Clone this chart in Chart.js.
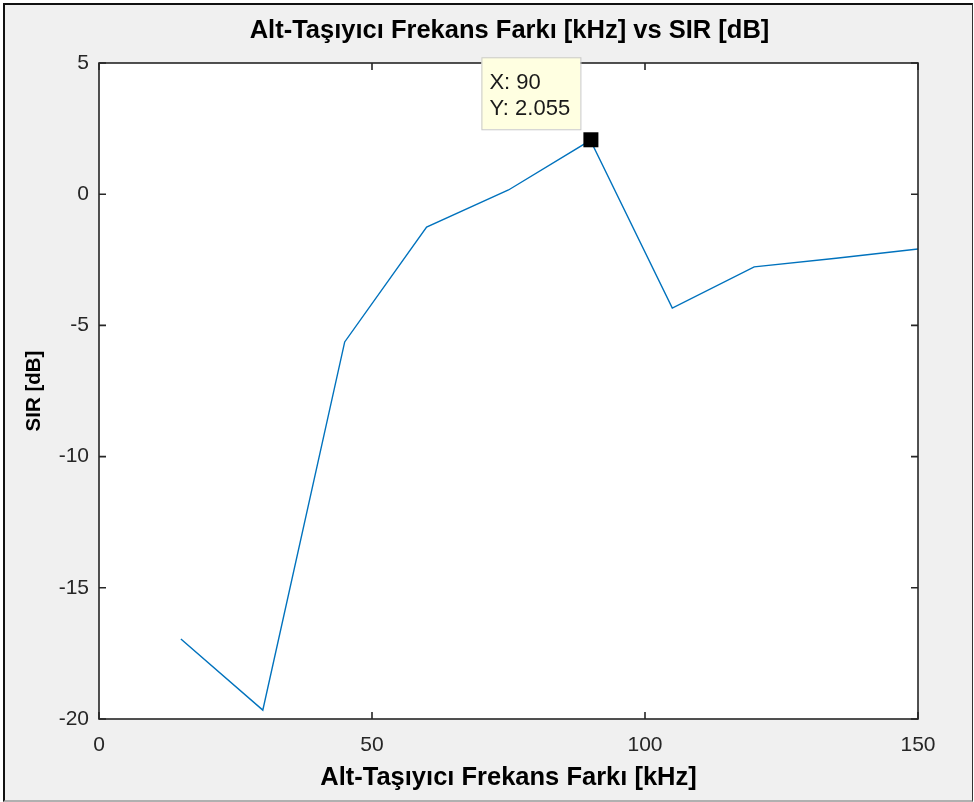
<!DOCTYPE html>
<html lang="tr">
<head>
    <meta charset="UTF-8">
    <title>Alt-Taşıyıcı Frekans Farkı vs SIR</title>
    <script src="https://cdn.jsdelivr.net/npm/chart.js"></script>
    <style>
        html, body { margin: 0; padding: 0; background: #ffffff; }
        /* figure window frame */
        #frame {
            position: absolute; left: 3px; top: 3px; width: 967px; height: 795px;
            background: #f0f0f0;
            border-top: 2px solid #111; border-left: 2px solid #111;
            border-right: 1px solid #333; border-bottom: 2px solid #b0b0b0;
        }
        #wrap { position: absolute; left: 0; top: 0; width: 974px; height: 802px; }
    </style>
</head>
<body>
    <div id="frame"></div>
    <div id="wrap"><canvas id="sirChart" width="974" height="802"></canvas></div>

    <script>
        // Data
        const freqDiff = [15, 30, 45, 60, 75, 90, 105, 120, 135, 150];      // kHz
        const sirValues = [-16.95, -19.66, -5.63, -1.25, 0.16, 2.055, -4.34, -2.77, -2.44, -2.09]; // dB
        const xTicks = [0, 50, 100, 150];
        const yTicks = [-20, -15, -10, -5, 0, 5];
        const tipIndex = 5; // data tip at X: 90

        const titleText = 'Alt-Taşıyıcı Frekans Farkı [kHz] vs SIR [dB]';
        const xLabel = 'Alt-Taşıyıcı Frekans Farkı [kHz]';
        const yLabel = 'SIR [dB]';

        const axisColor = '#262626';
        const fontFamily = '"Liberation Sans", Arial, Helvetica, sans-serif';

        // White axes background, box with inward ticks on all four sides, title, data tip
        const matlabAxes = {
            id: 'matlabAxes',
            beforeDatasetsDraw(chart) {
                const { ctx, chartArea: a } = chart;
                ctx.save();
                ctx.fillStyle = '#ffffff';
                ctx.fillRect(a.left, a.top, a.right - a.left, a.bottom - a.top);
                ctx.restore();
            },
            afterDatasetsDraw(chart) {
                const { ctx, chartArea: a, scales: { x, y } } = chart;
                ctx.save();
                ctx.strokeStyle = axisColor;
                ctx.lineWidth = 1.6;
                ctx.strokeRect(a.left, a.top, a.right - a.left, a.bottom - a.top);
                const len = 7;
                ctx.beginPath();
                xTicks.forEach(v => {
                    const px = x.getPixelForValue(v);
                    ctx.moveTo(px, a.bottom); ctx.lineTo(px, a.bottom - len);
                    ctx.moveTo(px, a.top); ctx.lineTo(px, a.top + len);
                });
                yTicks.forEach(v => {
                    const py = y.getPixelForValue(v);
                    ctx.moveTo(a.left, py); ctx.lineTo(a.left + len, py);
                    ctx.moveTo(a.right, py); ctx.lineTo(a.right - len, py);
                });
                ctx.stroke();

                // title
                ctx.fillStyle = '#000';
                ctx.font = 'bold 25.5px ' + fontFamily;
                ctx.textAlign = 'center';
                ctx.textBaseline = 'middle';
                ctx.fillText(titleText, (a.left + a.right) / 2 + 1, 31);
                ctx.restore();
            },
            afterDraw(chart) {
                // data tip
                const { ctx, scales: { x, y } } = chart;
                const px = x.getPixelForValue(freqDiff[tipIndex]);
                const py = y.getPixelForValue(sirValues[tipIndex]);
                ctx.save();
                ctx.fillStyle = '#000';
                ctx.fillRect(px - 7, py - 8, 15, 15);
                const bx = px - 109, by = py - 83, bw = 99, bh = 72;
                ctx.fillStyle = '#ffffe1';
                ctx.fillRect(bx, by, bw, bh);
                ctx.strokeStyle = '#c8c8c8';
                ctx.lineWidth = 1;
                ctx.strokeRect(bx + 0.5, by + 0.5, bw, bh);
                ctx.fillStyle = '#1a1a1a';
                ctx.font = '22px ' + fontFamily;
                ctx.textAlign = 'left';
                ctx.textBaseline = 'middle';
                ctx.fillText('X: ' + freqDiff[tipIndex], bx + 8, by + 26);
                ctx.fillText('Y: ' + sirValues[tipIndex].toFixed(3), bx + 8, by + 52);
                ctx.restore();
            }
        };

        const sirChart = new Chart(document.getElementById('sirChart').getContext('2d'), {
            type: 'scatter',
            data: {
                datasets: [{
                    data: freqDiff.map((f, i) => ({ x: f, y: sirValues[i] })),
                    showLine: true,
                    borderColor: '#0072BD',
                    borderWidth: 1.4,
                    pointRadius: 0,
                    fill: false
                }]
            },
            options: {
                responsive: false,
                animation: false,
                layout: { padding: { top: 63, right: 56, left: 0, bottom: 0 } },
                plugins: { legend: { display: false }, tooltip: { enabled: false } },
                scales: {
                    x: {
                        type: 'linear', min: 0, max: 150,
                        afterFit: s => { s.height = 83; },
                        afterBuildTicks: s => { s.ticks = xTicks.map(v => ({ value: v })); },
                        grid: { display: false, drawTicks: false },
                        border: { display: false },
                        ticks: { color: axisColor, padding: 14, font: { family: fontFamily, size: 21 } },
                        title: {
                            display: true, text: xLabel, color: '#000',
                            font: { family: fontFamily, size: 25.5, weight: 'bold' },
                            padding: { top: 0, bottom: 9 }
                        }
                    },
                    y: {
                        type: 'linear', min: -20, max: 5,
                        afterFit: s => { s.width = 99; },
                        afterBuildTicks: s => { s.ticks = yTicks.map(v => ({ value: v })); },
                        grid: { display: false, drawTicks: false },
                        border: { display: false },
                        ticks: { color: axisColor, padding: 10, font: { family: fontFamily, size: 21 } },
                        title: {
                            display: true, text: yLabel, color: '#000',
                            font: { family: fontFamily, size: 20.5, weight: 'bold' },
                            padding: { top: 22, bottom: 0 }
                        }
                    }
                }
            },
            plugins: [matlabAxes]
        });
    </script>
</body>
</html>
